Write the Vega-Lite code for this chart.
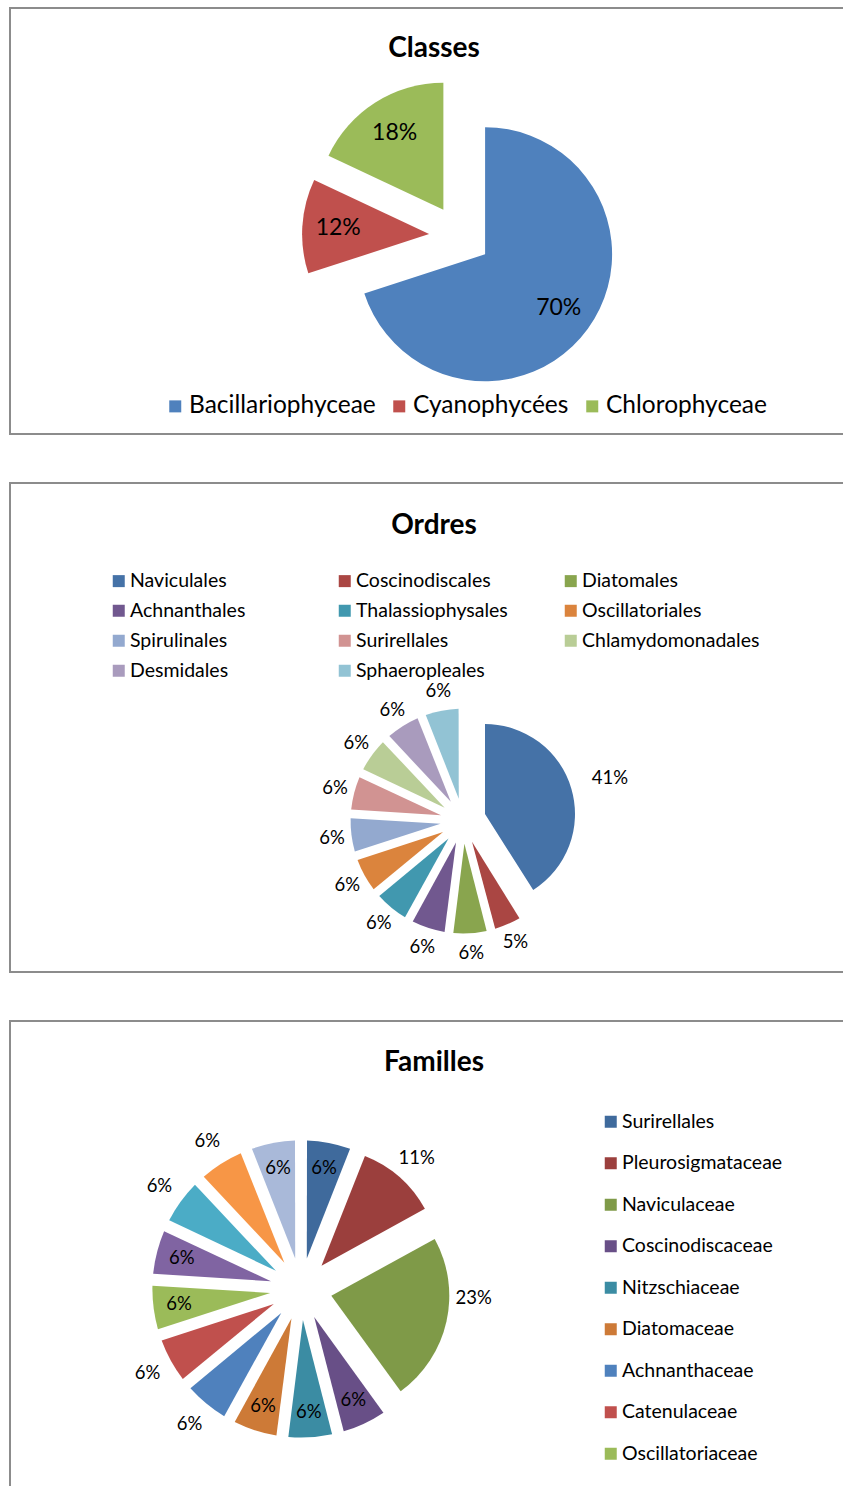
{
  "$schema": "https://vega.github.io/schema/vega-lite/v6.json",
  "padding": {"left": 9, "top": 7, "right": 5, "bottom": 5},
  "background": "white",
  "config": {
    "font": "Lato",
    "view": {"stroke": "#8C8C8C", "strokeWidth": 2},
    "legend": {"symbolType": "square", "symbolSize": 144, "symbolStrokeWidth": 0, "labelFont": "Lato", "labelColor": "#000000", "labelLimit": 400, "labelOffset": 1.5, "title": null},
    "title": {"font": "Lato", "fontWeight": "bold", "color": "#000000", "anchor": "middle"},
    "text": {"font": "Lato", "color": "#000000", "align": "center", "baseline": "middle"}
  },
  "resolve": {"scale": {"color": "independent"}, "legend": {"color": "independent"}},
  "spacing": 49,
  "bounds": "flush",
  "vconcat": [
    {
      "title": {"text": "Classes", "fontSize": 28, "offset": -55},
      "width": 848,
      "height": 426,
      "view": {"stroke": "#8C8C8C", "strokeWidth": 2},
      "data": {"values": [
        {"name": "Bacillariophyceae", "value": 0.70},
        {"name": "Cyanophycées", "value": 0.12},
        {"name": "Chlorophyceae", "value": 0.18}
      ]},
      "transform": [{"window": [{"op": "row_number", "as": "rank"}]}],
      "encoding": {
        "theta": {"field": "value", "type": "quantitative", "stack": true},
        "order": {"field": "rank", "type": "quantitative"}
      },
      "layer": [
        {
          "mark": {"type": "arc", "outerRadius": 127, "xOffset": 51.1, "yOffset": 33.2},
          "encoding": {
            "color": {"field": "name", "type": "nominal", "scale": {"domain": ["Bacillariophyceae", "Cyanophycées", "Chlorophyceae"], "range": ["#4F81BD", "#C0504D", "#9BBB59"]},
              "legend": {"orient": "none", "legendX": 153, "legendY": 386, "direction": "horizontal", "labelFontSize": 24.5, "columnPadding": 11}},
            "opacity": {"condition": {"test": "datum.name !== 'Bacillariophyceae'", "value": 0}, "value": 1}
          }
        },
        {
          "mark": {"type": "arc", "outerRadius": 127, "xOffset": -4.9, "yOffset": 13.1},
          "encoding": {
            "color": {"field": "name", "type": "nominal", "scale": {"domain": ["Bacillariophyceae", "Cyanophycées", "Chlorophyceae"], "range": ["#4F81BD", "#C0504D", "#9BBB59"]},
              "legend": {"orient": "none", "legendX": 153, "legendY": 386, "direction": "horizontal", "labelFontSize": 24.5, "columnPadding": 11}},
            "opacity": {"condition": {"test": "datum.name !== 'Cyanophycées'", "value": 0}, "value": 1}
          }
        },
        {
          "mark": {"type": "arc", "outerRadius": 127, "xOffset": 9.4, "yOffset": -11.2},
          "encoding": {
            "color": {"field": "name", "type": "nominal", "scale": {"domain": ["Bacillariophyceae", "Cyanophycées", "Chlorophyceae"], "range": ["#4F81BD", "#C0504D", "#9BBB59"]},
              "legend": {"orient": "none", "legendX": 153, "legendY": 386, "direction": "horizontal", "labelFontSize": 24.5, "columnPadding": 11}},
            "opacity": {"condition": {"test": "datum.name !== 'Chlorophyceae'", "value": 0}, "value": 1}
          }
        },
        {
          "mark": {"type": "text", "radius": 122, "xOffset": 26, "yOffset": 15, "fontSize": 23},
          "encoding": {
            "detail": {"field": "name", "type": "nominal"},
            "text": {"field": "value", "type": "quantitative", "format": ".0%"}
          }
        }
      ]
    },
    {
      "title": {"text": "Ordres", "fontSize": 28, "offset": -57},
      "width": 848,
      "height": 489,
      "view": {"stroke": "#8C8C8C", "strokeWidth": 2},
      "data": {"values": [
        {"name": "Naviculales", "value": 0.41},
        {"name": "Coscinodiscales", "value": 0.05},
        {"name": "Diatomales", "value": 0.06},
        {"name": "Achnanthales", "value": 0.06},
        {"name": "Thalassiophysales", "value": 0.06},
        {"name": "Oscillatoriales", "value": 0.06},
        {"name": "Spirulinales", "value": 0.06},
        {"name": "Surirellales", "value": 0.06},
        {"name": "Chlamydomonadales", "value": 0.06},
        {"name": "Desmidales", "value": 0.06},
        {"name": "Sphaeropleales", "value": 0.06}
      ]},
      "transform": [{"window": [{"op": "row_number", "as": "rank"}]}],
      "encoding": {
        "theta": {"field": "value", "type": "quantitative", "stack": true},
        "order": {"field": "rank", "type": "quantitative"}
      },
      "layer": [
        {
          "mark": {"type": "arc", "innerRadius": 22.7, "outerRadius": 112.4, "padAngle": 0.077, "xOffset": 29, "yOffset": 93.5},
          "encoding": {
            "color": {"field": "name", "type": "nominal", "scale": {"domain": ["Naviculales", "Coscinodiscales", "Diatomales", "Achnanthales", "Thalassiophysales", "Oscillatoriales", "Spirulinales", "Surirellales", "Chlamydomonadales", "Desmidales", "Sphaeropleales"], "range": ["#4572A7", "#AA4643", "#89A54E", "#71588F", "#4198AF", "#DB843D", "#93A9CF", "#D19392", "#B9CD96", "#A99BBD", "#92C3D4"]},
              "legend": {"orient": "none", "legendX": 99, "legendY": 88, "direction": "horizontal", "columns": 3, "gridAlign": "all", "labelFontSize": 19.5, "columnPadding": 27, "rowPadding": 9}},
            "opacity": {"condition": {"test": "datum.name === 'Naviculales'", "value": 0}, "value": 1}
          }
        },
        {
          "mark": {"type": "arc", "outerRadius": 90, "xOffset": 51, "yOffset": 86.5},
          "encoding": {
            "color": {"field": "name", "type": "nominal", "scale": {"domain": ["Naviculales", "Coscinodiscales", "Diatomales", "Achnanthales", "Thalassiophysales", "Oscillatoriales", "Spirulinales", "Surirellales", "Chlamydomonadales", "Desmidales", "Sphaeropleales"], "range": ["#4572A7", "#AA4643", "#89A54E", "#71588F", "#4198AF", "#DB843D", "#93A9CF", "#D19392", "#B9CD96", "#A99BBD", "#92C3D4"]},
              "legend": {"orient": "none", "legendX": 99, "legendY": 88, "direction": "horizontal", "columns": 3, "gridAlign": "all", "labelFontSize": 19.5, "columnPadding": 27, "rowPadding": 9}},
            "opacity": {"condition": {"test": "datum.name !== 'Naviculales'", "value": 0}, "value": 1}
          }
        },
        {
          "mark": {"type": "text", "radius": 132, "xOffset": 29, "yOffset": 93.5, "fontSize": 18.5},
          "encoding": {
            "detail": {"field": "name", "type": "nominal"},
            "text": {"field": "value", "type": "quantitative", "format": ".0%"},
            "opacity": {"condition": {"test": "datum.name === 'Naviculales'", "value": 0}, "value": 1}
          }
        },
        {
          "mark": {"type": "text", "radius": 153, "xOffset": 29, "yOffset": 93.5, "fontSize": 18.5},
          "encoding": {
            "detail": {"field": "name", "type": "nominal"},
            "text": {"field": "value", "type": "quantitative", "format": ".0%"},
            "opacity": {"condition": {"test": "datum.name !== 'Naviculales'", "value": 0}, "value": 1}
          }
        }
      ]
    },
    {
      "title": {"text": "Familles", "fontSize": 28, "offset": -56},
      "width": 848,
      "height": 480,
      "view": {"stroke": "#8C8C8C", "strokeWidth": 2},
      "data": {"values": [
        {"name": "Surirellales", "value": 0.06},
        {"name": "Pleurosigmataceae", "value": 0.11},
        {"name": "Naviculaceae", "value": 0.23},
        {"name": "Coscinodiscaceae", "value": 0.06},
        {"name": "Nitzschiaceae", "value": 0.06},
        {"name": "Diatomaceae", "value": 0.06},
        {"name": "Achnanthaceae", "value": 0.06},
        {"name": "Catenulaceae", "value": 0.06},
        {"name": "Oscillatoriaceae", "value": 0.06},
        {"name": "Spirulinaceae", "value": 0.06},
        {"name": "Chlamydomonadaceae", "value": 0.06},
        {"name": "Desmidiaceae", "value": 0.06},
        {"name": "Scenedesmaceae", "value": 0.06}
      ]},
      "transform": [{"window": [{"op": "row_number", "as": "rank"}]}],
      "encoding": {
        "theta": {"field": "value", "type": "quantitative", "stack": true},
        "order": {"field": "rank", "type": "quantitative"}
      },
      "layer": [
        {
          "mark": {"type": "arc", "innerRadius": 31, "outerRadius": 148.6, "padAngle": 0.0791, "xOffset": -133, "yOffset": 28},
          "encoding": {
            "color": {"field": "name", "type": "nominal", "scale": {"domain": ["Surirellales", "Pleurosigmataceae", "Naviculaceae", "Coscinodiscaceae", "Nitzschiaceae", "Diatomaceae", "Achnanthaceae", "Catenulaceae", "Oscillatoriaceae", "Spirulinaceae", "Chlamydomonadaceae", "Desmidiaceae", "Scenedesmaceae"], "range": ["#3F6A9C", "#9B3F3D", "#7F9A48", "#684F87", "#3B8CA3", "#CD7A37", "#4F81BD", "#C0504D", "#9BBB59", "#8064A2", "#4BACC6", "#F79646", "#A9B9D9"]},
              "legend": {"orient": "none", "legendX": 591, "legendY": 91, "direction": "vertical", "columns": 1, "labelFontSize": 19.5, "rowPadding": 20.5}},
            "opacity": {"condition": {"test": "datum.name === 'Pleurosigmataceae' || datum.name === 'Naviculaceae'", "value": 0}, "value": 1}
          }
        },
        {
          "mark": {"type": "arc", "outerRadius": 118, "xOffset": -112.5, "yOffset": 4.7},
          "encoding": {
            "color": {"field": "name", "type": "nominal", "scale": {"domain": ["Surirellales", "Pleurosigmataceae", "Naviculaceae", "Coscinodiscaceae", "Nitzschiaceae", "Diatomaceae", "Achnanthaceae", "Catenulaceae", "Oscillatoriaceae", "Spirulinaceae", "Chlamydomonadaceae", "Desmidiaceae", "Scenedesmaceae"], "range": ["#3F6A9C", "#9B3F3D", "#7F9A48", "#684F87", "#3B8CA3", "#CD7A37", "#4F81BD", "#C0504D", "#9BBB59", "#8064A2", "#4BACC6", "#F79646", "#A9B9D9"]},
              "legend": {"orient": "none", "legendX": 591, "legendY": 91, "direction": "vertical", "columns": 1, "labelFontSize": 19.5, "rowPadding": 20.5}},
            "opacity": {"condition": {"test": "datum.name !== 'Pleurosigmataceae'", "value": 0}, "value": 1}
          }
        },
        {
          "mark": {"type": "arc", "outerRadius": 118, "xOffset": -102.7, "yOffset": 34.8},
          "encoding": {
            "color": {"field": "name", "type": "nominal", "scale": {"domain": ["Surirellales", "Pleurosigmataceae", "Naviculaceae", "Coscinodiscaceae", "Nitzschiaceae", "Diatomaceae", "Achnanthaceae", "Catenulaceae", "Oscillatoriaceae", "Spirulinaceae", "Chlamydomonadaceae", "Desmidiaceae", "Scenedesmaceae"], "range": ["#3F6A9C", "#9B3F3D", "#7F9A48", "#684F87", "#3B8CA3", "#CD7A37", "#4F81BD", "#C0504D", "#9BBB59", "#8064A2", "#4BACC6", "#F79646", "#A9B9D9"]},
              "legend": {"orient": "none", "legendX": 591, "legendY": 91, "direction": "vertical", "columns": 1, "labelFontSize": 19.5, "rowPadding": 20.5}},
            "opacity": {"condition": {"test": "datum.name !== 'Naviculaceae'", "value": 0}, "value": 1}
          }
        },
        {
          "mark": {"type": "text", "radius": 123, "xOffset": -133, "yOffset": 28, "fontSize": 18.5},
          "encoding": {
            "detail": {"field": "name", "type": "nominal"},
            "text": {"field": "value", "type": "quantitative", "format": ".0%"},
            "opacity": {"condition": {"test": "indexof(['Pleurosigmataceae','Naviculaceae','Achnanthaceae','Catenulaceae','Chlamydomonadaceae','Desmidiaceae'], datum.name) >= 0", "value": 0}, "value": 1}
          }
        },
        {
          "mark": {"type": "text", "radius": 175, "xOffset": -133, "yOffset": 28, "fontSize": 18.5},
          "encoding": {
            "detail": {"field": "name", "type": "nominal"},
            "text": {"field": "value", "type": "quantitative", "format": ".0%"},
            "opacity": {"condition": {"test": "indexof(['Pleurosigmataceae','Achnanthaceae','Catenulaceae','Chlamydomonadaceae','Desmidiaceae'], datum.name) < 0", "value": 0}, "value": 1}
          }
        },
        {
          "mark": {"type": "text", "radius": 173, "thetaOffset": -0.1676, "xOffset": -133, "yOffset": 28, "fontSize": 18.5},
          "encoding": {
            "detail": {"field": "name", "type": "nominal"},
            "text": {"field": "value", "type": "quantitative", "format": ".0%"},
            "opacity": {"condition": {"test": "datum.name !== 'Naviculaceae'", "value": 0}, "value": 1}
          }
        }
      ]
    }
  ]
}
